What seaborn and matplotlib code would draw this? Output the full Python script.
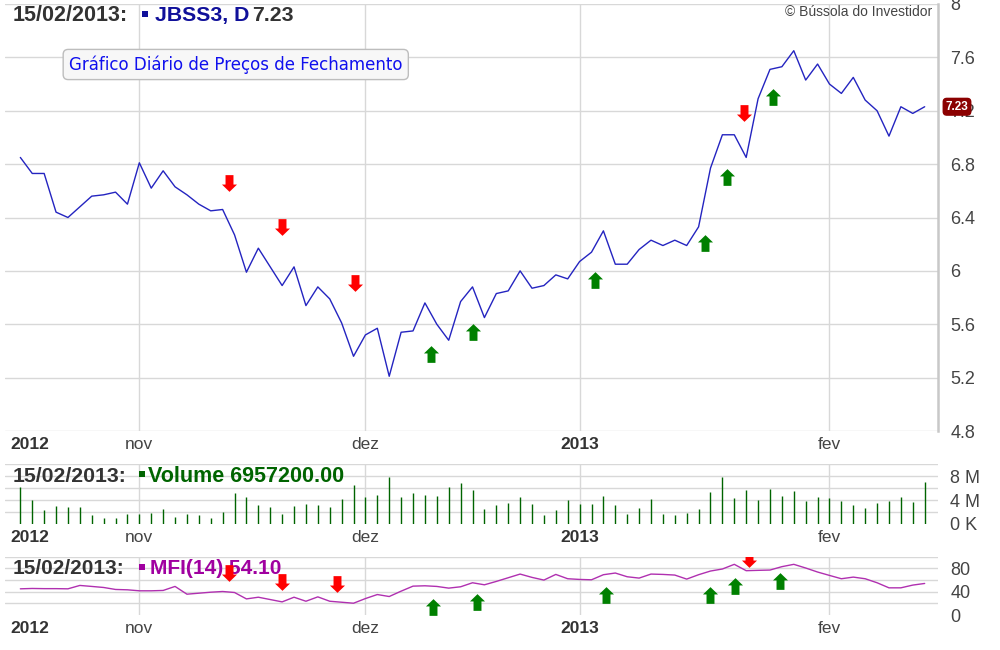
import numpy as np
import pandas as pd
import matplotlib
matplotlib.use("Agg")
import matplotlib.pyplot as plt
import seaborn as sns
from matplotlib.path import Path
from matplotlib.patches import Rectangle
from matplotlib import transforms

# ---------------- data ----------------
price = [6.85, 6.73, 6.73, 6.44, 6.40, 6.48, 6.56, 6.57, 6.59, 6.50,
         6.81, 6.62, 6.75, 6.63, 6.57, 6.50, 6.45, 6.46, 6.27, 5.99,
         6.17, 6.03, 5.89, 6.03, 5.74, 5.88, 5.79, 5.61, 5.36, 5.52,
         5.57, 5.21, 5.54, 5.55, 5.76, 5.60, 5.48, 5.77, 5.88, 5.65,
         5.83, 5.85, 6.00, 5.87, 5.89, 5.97, 5.94, 6.07, 6.14, 6.30,
         6.05, 6.05, 6.16, 6.23, 6.19, 6.23, 6.19, 6.33, 6.77, 7.02,
         7.02, 6.85, 7.29, 7.51, 7.53, 7.65, 7.43, 7.55, 7.40, 7.33,
         7.45, 7.28, 7.20, 7.01, 7.23, 7.18, 7.23]

volume_m = [6.27, 4.00, 2.37, 3.05, 2.88, 2.77, 1.53, 0.96, 1.07, 1.69,
            1.75, 1.92, 2.54, 1.13, 1.64, 1.53, 1.07, 2.09, 5.20, 4.58,
            3.22, 2.77, 1.75, 3.05, 3.39, 3.22, 2.88, 4.12, 6.55, 4.58,
            4.92, 7.90, 4.46, 5.25, 4.80, 4.63, 6.27, 6.84, 5.76, 2.54,
            3.16, 3.44, 4.58, 3.33, 1.53, 2.37, 3.95, 3.39, 3.28, 4.69,
            3.22, 1.69, 2.71, 4.24, 1.69, 1.53, 1.92, 2.54, 5.31, 7.80,
            4.29, 5.76, 4.07, 5.88, 4.69, 5.59, 3.78, 4.52, 4.35, 3.84,
            3.22, 2.66, 3.50, 3.78, 4.58, 3.67, 6.9572]

mfi = [44.9, 45.5, 45.2, 45.2, 44.9, 50.7, 49.0, 47.2, 43.8, 43.2,
       41.5, 41.5, 42.1, 49.0, 35.7, 37.4, 39.1, 40.3, 38.6, 27.6,
       30.5, 26.5, 22.5, 30.5, 23.6, 31.1, 23.6, 21.9, 20.2, 28.2,
       35.1, 31.7, 40.9, 49.5, 50.1, 49.0, 46.1, 48.4, 55.3, 51.8,
       57.6, 63.9, 70.2, 64.5, 59.9, 69.6, 62.2, 61.0, 60.4, 69.1,
       72.0, 65.6, 63.3, 70.2, 69.6, 68.5, 61.6, 69.1, 75.4, 78.9,
       86.9, 76.0, 76.6, 77.1, 82.9, 86.9, 80.6, 73.7, 67.9, 62.2,
       65.0, 62.2, 55.3, 46.6, 46.6, 51.3, 54.1]

day_index = list(range(len(price)))
month_pos = [10, 29, 47, 68]
month_labels = ["nov", "dez", "2013", "fev"]
year_label = "2012"

price_ticks = [4.8, 5.2, 5.6, 6.0, 6.4, 6.8, 7.2, 7.6, 8.0]
price_tick_labels = ["4.8", "5.2", "5.6", "6", "6.4", "6.8", "7.2", "7.6", "8"]
vol_ticks = [0, 2e6, 4e6, 6e6, 8e6, 10e6]
vol_tick_labels = ["0 K", "", "4 M", "", "8 M", ""]
mfi_ticks = [0, 20, 40, 60, 80, 100]
mfi_tick_labels = ["0", "", "40", "", "80", ""]

price_sell_x = [17.5, 22.0, 28.15, 60.8]
price_sell_y = [6.66, 6.33, 5.91, 7.18]
price_buy_x = [34.5, 38.0, 48.3, 57.5, 59.4, 63.25]
price_buy_y = [5.38, 5.54, 5.93, 6.21, 6.70, 7.30]
mfi_sell_x = [17.5, 22.0, 26.6, 61.2]
mfi_sell_y = [72.5, 57.0, 53.5, 95.5]
mfi_buy_x = [34.65, 38.4, 49.2, 58.0, 60.1, 63.8]
mfi_buy_y = [13.0, 22.5, 33.7, 35.0, 49.2, 58.7]

last_date = "15/02/2013:"
last_price = 7.23

df = pd.DataFrame({"i": day_index, "price": price,
                   "volume": np.array(volume_m) * 1e6, "mfi": mfi})

# ---------------- style ----------------
sns.set_theme(style="white")
plt.rcParams["font.family"] = ["Liberation Sans", "DejaVu Sans"]

W, H = 1000, 650
fig = plt.figure(figsize=(10, 6.5), dpi=100)
fig.patch.set_facecolor("white")


def fx(x):
    return x / W


def fy(y):
    return 1 - y / H


GRID = "#d8d8d8"
LBL = "#444444"
XLIM = (-1.29, 77.12)

ax_p = fig.add_axes([fx(5), fy(431), fx(933), 427 / H])
ax_v = fig.add_axes([fx(5), fy(524), fx(933), 59.7 / H])
ax_m = fig.add_axes([fx(5), fy(615), fx(933), 58.3 / H])

# down / up block arrows
down_arrow = Path([(-3.8, 8), (3.8, 8), (3.8, -1.0), (7.2, -1.0), (0, -8),
                   (-7.2, -1.0), (-3.8, -1.0), (-3.8, 8)],
                  [Path.MOVETO] + [Path.LINETO] * 6 + [Path.CLOSEPOLY])
up_arrow = Path([(-3.8, -8), (3.8, -8), (3.8, 1.0), (7.2, 1.0), (0, 8),
                 (-7.2, 1.0), (-3.8, 1.0), (-3.8, -8)],
                [Path.MOVETO] + [Path.LINETO] * 6 + [Path.CLOSEPOLY])
ARROW_S = 145


def style_axis(ax, yticks, ylabels, ylim, pad_x):
    ax.set_xlim(*XLIM)
    ax.set_ylim(*ylim)
    ax.set_facecolor("white")
    for s in ax.spines.values():
        s.set_visible(False)
    ax.set_xticks(month_pos)
    ax.set_xticklabels(month_labels)
    for t in ax.get_xticklabels():
        t.set_fontsize(12.5)
        t.set_color(LBL)
        if t.get_text() == "2013":
            t.set_fontweight("bold")
            t.set_color("#333333")
    ax.tick_params(axis="x", length=0, pad=pad_x)
    ax.yaxis.tick_right()
    ax.set_yticks(yticks)
    ax.set_yticklabels(ylabels)
    ax.tick_params(axis="y", length=0, pad=9, labelsize=13, labelcolor=LBL)
    ax.grid(True, color=GRID, linewidth=1)
    ax.set_axisbelow(True)
    ax.text(-0.87, -pad_x / 72 * 100 / (ax.bbox.height), year_label,
            transform=transforms.blended_transform_factory(ax.transData, ax.transAxes),
            ha="left", va="top", fontsize=12.5, fontweight="bold", color="#333333")
    ax.set_xlabel("")
    ax.set_ylabel("")


def square(ax, x0, y0, x1, y1, color):
    ax.add_artist(Rectangle((fx(x0), fy(y1)), fx(x1 - x0), (y1 - y0) / H,
                            transform=fig.transFigure, facecolor=color,
                            edgecolor="none", clip_on=False, zorder=4))


# ---------------- price panel ----------------
sns.lineplot(data=df, x="i", y="price", ax=ax_p, color="#2424c0", linewidth=1.0)
style_axis(ax_p, price_ticks, price_tick_labels, (4.8, 8.0), 4.5)
ax_p.spines["right"].set_visible(True)
ax_p.spines["right"].set_color("#c8c8c8")
ax_p.spines["right"].set_linewidth(1.8)
ax_p.scatter(price_sell_x, price_sell_y, marker=down_arrow, s=ARROW_S,
             color="#ff0000", linewidths=0, zorder=6)
ax_p.scatter(price_buy_x, price_buy_y, marker=up_arrow, s=ARROW_S,
             color="#008000", linewidths=0, zorder=6)

# badge with last price
ax_p.text(fx(957), last_price, f"{last_price:.2f}",
          transform=transforms.blended_transform_factory(fig.transFigure, ax_p.transData),
          ha="center", va="center", fontsize=8.5, fontweight="bold", color="white",
          clip_on=False, zorder=10,
          bbox=dict(boxstyle="round,pad=0.2,rounding_size=0.3", fc="#8b0000", ec="#8b0000"))

# titles price
ax_p.text(fx(13), fy(21), last_date, transform=fig.transFigure, ha="left",
          va="baseline", fontsize=15.5, fontweight="bold", color="#333333", zorder=4)
square(ax_p, 141.5, 11, 147.5, 17, "#10109a")
ax_p.text(fx(155), fy(21), "JBSS3, D", transform=fig.transFigure, ha="left",
          va="baseline", fontsize=15.3, fontweight="bold", color="#10109a", zorder=4)
ax_p.text(fx(252), fy(21), f"{last_price:.2f}", transform=fig.transFigure, ha="left",
          va="baseline", fontsize=15.3, fontweight="bold", color="#333333", zorder=4)

ax_p.text(fx(69), fy(64.5), "Gráfico Diário de Preços de Fechamento",
          transform=fig.transFigure, ha="left", va="center", fontsize=12,
          family="DejaVu Sans", color="#1010ee", zorder=4,
          bbox=dict(boxstyle="round,pad=0.35,rounding_size=0.3", fc="#f7f7f7",
                    ec="#bdbdbd", lw=1))

fig.text(fx(932), fy(11.5), "© Bússola do Investidor", ha="right", va="center",
         fontsize=10, color=LBL)

# ---------------- volume panel ----------------
ax_v.vlines(df["i"], 0, df["volume"], color="#006400", linewidth=1.0)
style_axis(ax_v, vol_ticks, vol_tick_labels, (0, 10e6), 4.0)
ax_v.yaxis.get_major_ticks()[0].gridline.set_visible(False)
ax_v.text(fx(13), fy(481.7), last_date, transform=fig.transFigure, ha="left",
          va="baseline", fontsize=15.3, fontweight="bold", color="#333333", zorder=4)
square(ax_v, 138.5, 471, 144.5, 477, "#006400")
ax_v.text(fx(148), fy(481.7), f"Volume {volume_m[-1] * 1e6:.2f}",
          transform=fig.transFigure, ha="left", va="baseline", fontsize=15.5,
          fontweight="bold", color="#006400", zorder=4)

# ---------------- MFI panel ----------------
sns.lineplot(data=df, x="i", y="mfi", ax=ax_m, color="#b030b0", linewidth=1.0)
style_axis(ax_m, mfi_ticks, mfi_tick_labels, (0, 100), 4.5)
ax_m.yaxis.get_major_ticks()[0].gridline.set_visible(False)
ax_m.text(fx(13), fy(574.3), last_date, transform=fig.transFigure, ha="left",
          va="baseline", fontsize=15, fontweight="bold", color="#333333", zorder=4)
square(ax_m, 139, 563.5, 145, 569.5, "#a000a0")
ax_m.text(fx(150), fy(574.3), f"MFI(14) {mfi[-1]:.2f}",
          transform=fig.transFigure, ha="left", va="baseline", fontsize=15,
          fontweight="bold", color="#a000a0", zorder=4)
ax_m.scatter(mfi_sell_x, mfi_sell_y, marker=down_arrow, s=ARROW_S,
             color="#ff0000", linewidths=0, zorder=6)
ax_m.scatter(mfi_buy_x, mfi_buy_y, marker=up_arrow, s=ARROW_S,
             color="#008000", linewidths=0, zorder=6)

fig.savefig("out.png", dpi=100, facecolor="white")
